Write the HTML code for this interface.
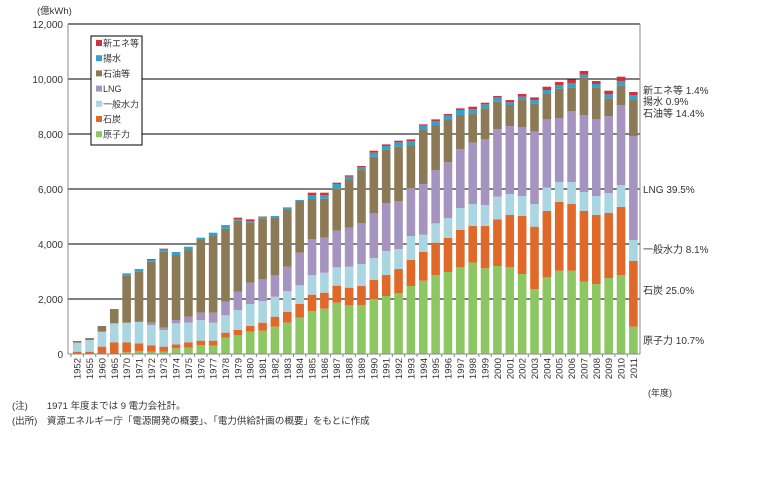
<!DOCTYPE html>
<html><head><meta charset="utf-8"><style>
body{margin:0;background:#fff;width:768px;height:480px;overflow:hidden;font-family:"Liberation Sans","Noto Sans CJK JP",sans-serif}
svg text{font-family:"Liberation Sans","Noto Sans CJK JP",sans-serif}
</style></head><body>
<svg id="chart" width="768" height="480" viewBox="0 0 768 480" xmlns="http://www.w3.org/2000/svg">
<g id="grid"></g><g id="bars"></g><g id="axes"></g>
<g id="legend"></g>
<g id="notes"></g>
</svg>
<script>
const years=["1952","1955","1960","1965","1970","1971","1972","1973","1974","1975","1976","1977","1978","1979","1980","1981","1982","1983","1984","1985","1986","1987","1988","1989","1990","1991","1992","1993","1994","1995","1996","1997","1998","1999","2000","2001","2002","2003","2004","2005","2006","2007","2008","2009","2010","2011"];
const nuclear=[0,0,0,0,60,110,85,85,206,230,327,303,594,679,812,848,994,1139,1321,1563,1648,1866,1769,1782,2000,2109,2206,2472,2666,2872,2981,3151,3321,3115,3200,3151,2909,2363,2787,3030,3030,2630,2545,2763,2872,994];
const coal=[85,85,267,424,364,278,230,182,145,194,158,182,182,194,206,291,363,388,497,594,582,619,643,690,690,763,884,946,1043,1176,1237,1358,1333,1539,1696,1903,2109,2267,2413,2497,2424,2570,2509,2364,2473,2388];
const hydro=[327,424,545,691,715,775,739,606,764,715,751,654,630,727,800,788,728,764,679,716,727,666,763,800,800,873,728,872,630,703,727,800,800,764,824,764,727,824,848,727,800,690,691,727,800,763];
const lng=[0,0,0,0,0,17,85,84,121,218,267,364,497,666,776,788,775,884,1187,1296,1273,1333,1418,1479,1625,1733,1745,1734,1842,1939,2024,2145,2230,2387,2461,2472,2497,2630,2485,2327,2582,2800,2788,2800,2909,3781];
const oil=[61,71,206,521,1709,1814,2218,2764,2364,2424,2642,2787,2654,2582,2181,2218,2109,2061,1879,1467,1418,1540,1734,1939,2060,1964,1976,1575,1964,1636,1539,1236,1067,1127,994,764,993,1030,921,1067,860,1370,1163,643,715,1309];
const pumped=[0,0,0,0,85,96,63,69,109,122,85,122,133,48,49,61,49,97,37,145,133,157,121,97,145,121,157,146,157,146,158,182,157,146,145,97,122,121,146,133,146,97,122,145,157,182];
const newEnergy=[0,0,0,0,0,0,34,40,0,0,0,0,0,61,72,10,0,0,0,85,85,49,48,49,73,60,61,60,49,60,60,60,85,60,61,84,97,97,120,109,145,133,108,133,158,110];
const yTicks=[0,2000,4000,6000,8000,10000,12000];
const seriesNames=["原子力","石炭","一般水力","LNG","石油等","揚水","新エネ等"];
const seriesKeys=["nuclear","coal","hydro","lng","oil","pumped","new-energy"];
const seriesColors=["#8dc763","#e0692a","#a9d6e0","#a594bf","#8b7a55","#36a1c9","#d3303c"];
const series=[nuclear,coal,hydro,lng,oil,pumped,newEnergy];
const shares=[["新エネ等 1.4%",90],["揚水 0.9%",101],["石油等 14.4%",113],["LNG 39.5%",189],["一般水力 8.1%",249],["石炭 25.0%",290],["原子力 10.7%",340]];

const NS="http://www.w3.org/2000/svg";
const X0=71,BAND=12.36,BW=8.6,Y0=354,YT=24,YMAX=12000;
const y=v=>Y0-(v/YMAX)*(Y0-YT);
const x=i=>X0+i*BAND+(BAND-BW)/2;
function mk(tag,attrs,parent){const e=document.createElementNS(NS,tag);for(const k in attrs)e.setAttribute(k,attrs[k]);parent.appendChild(e);return e;}
const grid=document.getElementById('grid'),bars=document.getElementById('bars'),axes=document.getElementById('axes'),legend=document.getElementById('legend'),notes=document.getElementById('notes');

yTicks.forEach(t=>{
  if(t>0){const l=mk('line',{x1:68,x2:640,y1:y(t),y2:y(t),stroke:'#000','stroke-width':1},grid);
  
  }
  const tx=mk('text',{x:63,y:y(t)+4,'text-anchor':'end','font-size':10,fill:'#333'},axes);
  tx.textContent=t.toLocaleString('en-US');
  
  
});
const unit=mk('text',{x:37,y:14,'font-size':9.5,fill:'#333'},axes);unit.textContent="(億kWh)";



years.forEach((yr,i)=>{
  let base=0;
  series.forEach((s,k)=>{
    const v=s[i];if(v<=0)return;
    const r=mk('rect',{x:x(i),y:y(base+v),width:BW,height:y(base)-y(base+v),fill:seriesColors[k]},bars);
    
    
    base+=v;
  });
  const cx=X0+i*BAND+BAND/2;
  mk('line',{x1:X0+i*BAND,x2:X0+i*BAND,y1:Y0,y2:Y0+3,stroke:'#888'},axes);
  const t=mk('text',{x:0,y:0,'font-size':9.5,fill:'#333','text-anchor':'end',transform:`translate(${cx+3.5},${Y0+4}) rotate(-90)`},axes);
  t.textContent=yr;
  
  
});
const xa=mk('line',{x1:68,x2:640,y1:Y0,y2:Y0,stroke:'#888'},axes);


const ya=mk('line',{x1:68,x2:68,y1:YT,y2:Y0,stroke:'#888'},axes);


mk('line',{x1:640,x2:640,y1:YT,y2:Y0,stroke:'#888'},axes);

mk('rect',{x:91,y:36,width:51,height:109,fill:'#fff',stroke:'#000','stroke-width':1},legend);
for(let k=6;k>=0;k--){
  const row=6-k, ly=45+row*15.2;
  const g=mk('g',{},legend);
  
  
  mk('rect',{x:96,y:ly-5,width:6,height:6,fill:seriesColors[k]},g);
  const t=mk('text',{x:103,y:ly+1.5,'font-size':9,fill:'#333'},g);t.textContent=seriesNames[k];
}
shares.forEach(([s,yy])=>{
  const t=mk('text',{x:643,y:yy+4,'font-size':10,fill:'#333'},notes);t.textContent=s;
  
  
});
const fy=mk('text',{x:648,y:396,'font-size':9,fill:'#333'},notes);fy.textContent="(年度)";


const n1=mk('text',{x:12,y:409,'font-size':9.5,fill:'#333'},notes);n1.textContent="(注)　　1971 年度までは 9 電力会社計。";


const n2=mk('text',{x:12,y:424,'font-size':9.5,fill:'#333'},notes);n2.textContent="(出所)　資源エネルギー庁「電源開発の概要」、「電力供給計画の概要」をもとに作成";


</script>
</body></html>
